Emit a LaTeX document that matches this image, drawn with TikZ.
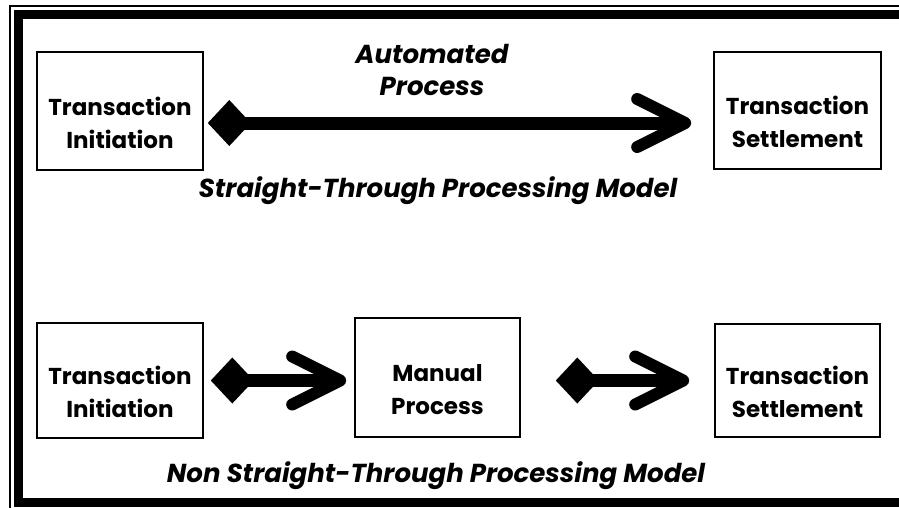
\documentclass[tikz,border=0pt]{standalone}
\usepackage{fontspec}
\setmainfont{Poppins}
\usetikzlibrary{arrows.meta}
\tikzset{
  procbox/.style={
    draw,
    line width=1.6pt,
    inner sep=0pt,
    font=\fontsize{23}{33}\selectfont\bfseries
  },
  flow/.style={
    line width=13pt,
    {Diamond[length=43pt,width=46pt]}-{Straight Barb[length=48pt,width=48pt,line width=12pt,round]}
  },
  modeltitle/.style={
    font=\fontsize{26}{32}\selectfont\bfseries\itshape,
    align=center
  }
}
% text sits a little below the middle of each box
\newcommand{\boxlabel}[1]{\raisebox{-14pt}[\height][\depth]{\begin{tabular}{@{}c@{}}#1\end{tabular}}}

\begin{document}
\begin{tikzpicture}[x=1pt,y=-1pt]
  \useasboundingbox (0,0) rectangle (899,507);
  \clip (0,0) rectangle (899,507);
  \fill[white] (0,0) rectangle (899,507);

  % double frame, cut off at right and bottom
  \draw[line width=2pt] (10,6) rectangle (1010,540);
  \draw[line width=9pt] (18.5,14.5) rectangle (1000,502.5);

  % Straight-through model
  \node[procbox, minimum width=166pt, minimum height=118pt] (ti) at (120,111) {\boxlabel{Transaction\\Initiation}};
  \node[procbox, minimum width=167pt, minimum height=117pt] (ts) at (797.5,110.5) {\boxlabel{Transaction\\Settlement}};
  \draw[flow, shorten <=4pt, shorten >=22pt] ([yshift=-12pt]ti.east) -- ([yshift=-12pt]ti.east -| ts.west);
  \node[modeltitle] (auto) at (432,70) {Automated\\Process};
  \node[modeltitle, anchor=base] (stp) at (438,197) {Straight-Through Processing Model};

  % Non straight-through model
  \node[procbox, minimum width=166pt, minimum height=115pt] (bi) at (120,380.5) {\boxlabel{Transaction\\Initiation}};
  \node[procbox, minimum width=165pt, minimum height=119pt] (mp) at (437.5,377.5) {\boxlabel{Manual\\Process}};
  \node[procbox, minimum width=165pt, minimum height=113pt] (bs) at (797.5,380.5) {\boxlabel{Transaction\\Settlement}};
  \draw[flow, shorten <=7pt, shorten >=8pt] (bi.east) -- (bi.east -| mp.west);
  \draw[flow, shorten <=35pt, shorten >=25pt] (mp.east |- bs.west) -- (bs.west);
  \node[modeltitle, anchor=base] (nstp) at (436,482) {Non Straight-Through Processing Model};
\end{tikzpicture}
\end{document}
